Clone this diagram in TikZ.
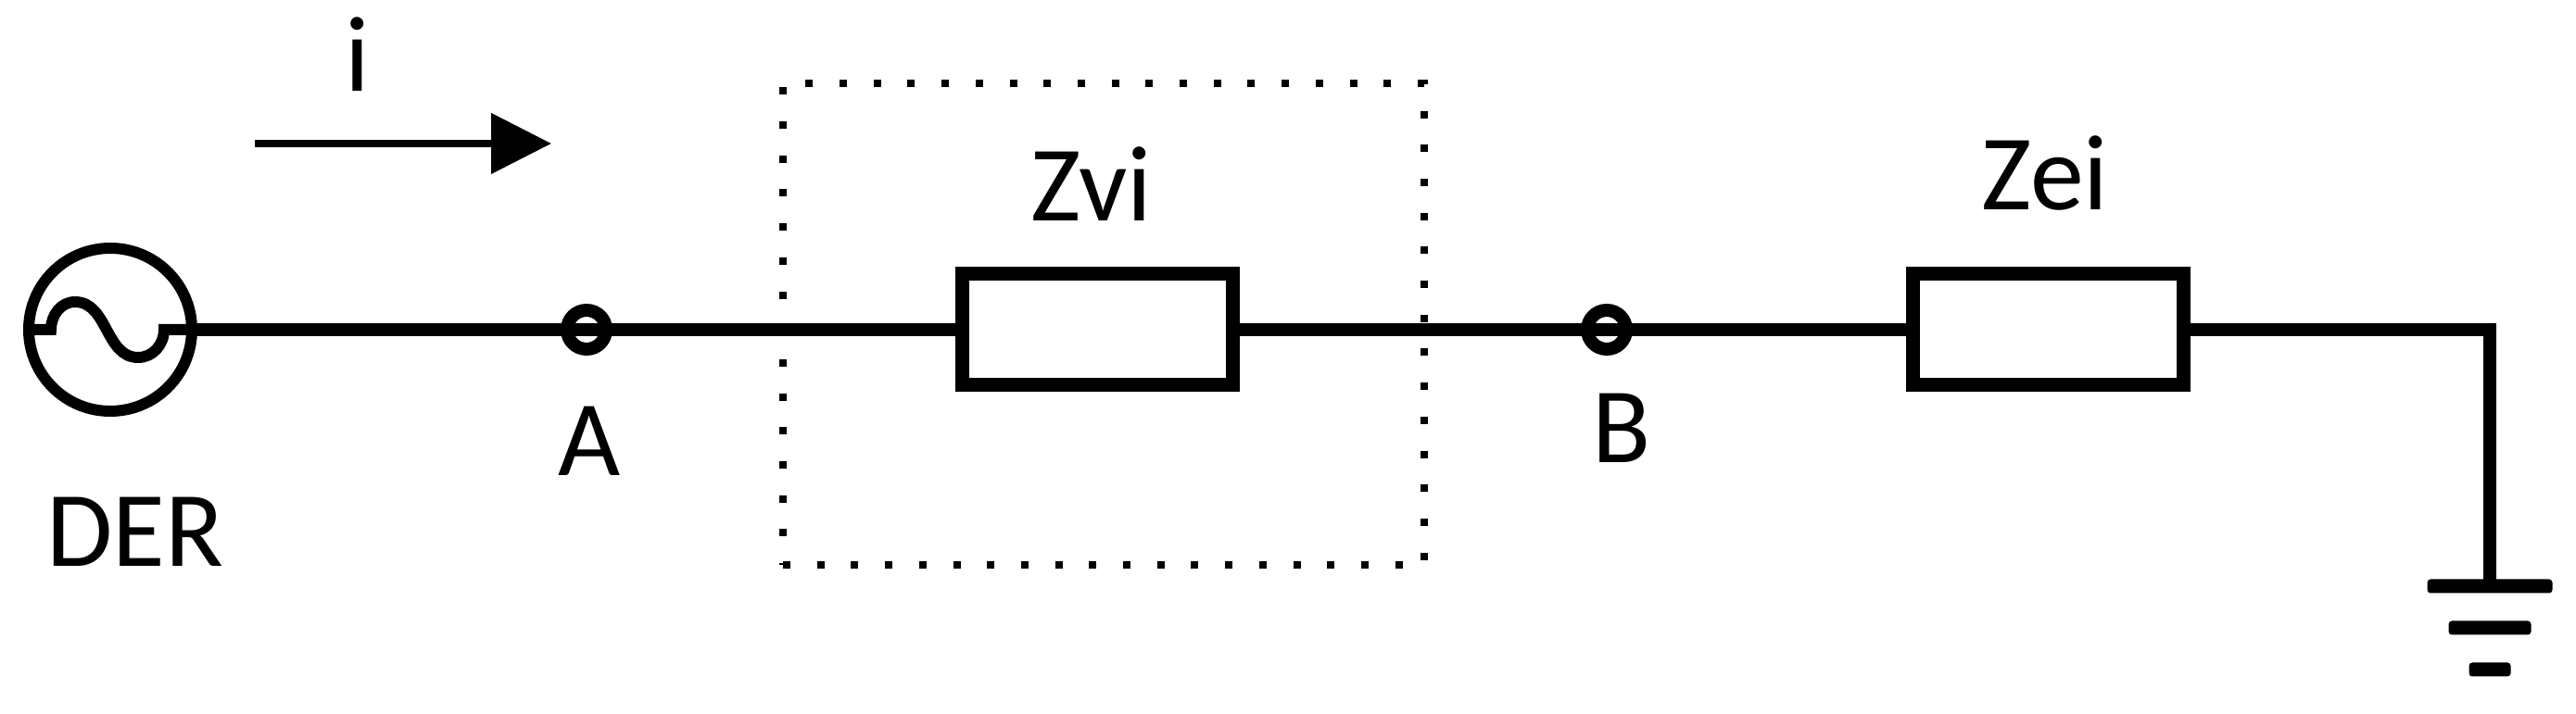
\documentclass[tikz,border=0pt]{standalone}
\usepackage{fontspec}
\setmainfont{Carlito}
\usetikzlibrary{arrows.meta}
\begin{document}
\begin{tikzpicture}[x=1cm, y=1cm]
        \tikzstyle{every node}=[inner sep=0pt, font=\fontsize{33}{36}\selectfont]
        \tikzstyle{wire}=[line width=1.4mm]
        \tikzstyle{source}=[circle, draw, line width=1.2mm, minimum size=17.6mm]
        \tikzstyle{terminal}=[circle, draw, line width=1.4mm, minimum size=4.2mm]
        \tikzstyle{impedance}=[rectangle, draw, line width=1.5mm, minimum width=29.2mm, minimum height=12mm]
        \tikzstyle{gndbar}=[rectangle, fill=black, rounded corners=1pt, minimum height=1.5mm]
        \useasboundingbox (0,0) rectangle (27.8,7.71);
        \node [rectangle, draw, line width=.8mm, dash pattern=on .8mm off 2.87mm, minimum width=69.2mm, minimum height=52mm] (vbox) at (11.91,4.21) {};
        \node [source] (der) at (1.19,4.15) {};
        \node [terminal] (a) at (6.33,4.15) {};
        \node [terminal] (b) at (17.34,4.15) {};
        \node [impedance] (zv) at (11.84,4.15) {};
        \node [impedance] (ze) at (22.10,4.15) {};
        \coordinate (corner) at (26.87,4.15);
        \node [gndbar, minimum width=13.5mm] (g1) at (26.87,1.38) {};
        \node [gndbar, minimum width=8.9mm] (g2) at (26.87,0.93) {};
        \node [gndbar, minimum width=4.5mm] (g3) at (26.87,0.48) {};
        % current arrow
        \coordinate (itail) at (2.75,6.16);
        \coordinate (ihead) at (5.95,6.16);
        \draw [line width=.8mm, -{Triangle[length=6.5mm, width=6.4mm]}] (itail) -- (ihead);
        % wires
        \draw [wire] (der.east) -- (a.center) -- (zv.west);
        \draw [wire] (zv.east) -- (b.center) -- (ze.west);
        \draw [wire] (ze.east) -- (corner) -- (g1.center);
        % ac sine
        \draw [wire, line width=1.2mm] (der.west) -- ++(.3,0) to[out=90,in=180] ++(.26,.3) to[out=0,in=180] ++(.68,-.6) to[out=0,in=270] ++(.28,.3) -- (der.east);
        % labels
        \node (ilabel) at (3.86,7.12) {i};
        \node (zvlabel) at (11.78,5.72) {Zvi};
        \node (zelabel) at (22.07,5.84) {Zei};
        \node (alabel) at (6.36,2.95) {A};
        \node (blabel) at (17.50,3.09) {B};
        \node (derlabel) at (1.46,1.97) {DER};
    \end{tikzpicture}
\end{document}
